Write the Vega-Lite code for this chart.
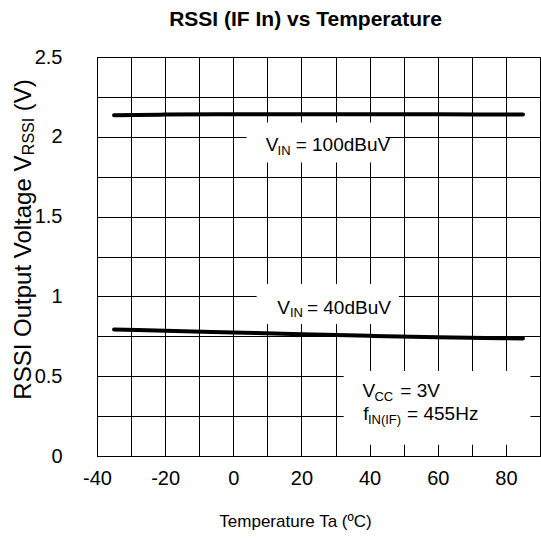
{
  "$schema": "https://vega.github.io/schema/vega-lite/v6.json",
  "width": 443,
  "height": 399,
  "autosize": {"type": "none"},
  "padding": {"left": 97, "top": 57, "right": 1, "bottom": 84},
  "background": "white",
  "config": {
    "font": "Liberation Sans",
    "view": {"stroke": "#000", "strokeWidth": 1}
  },
  "title": {
    "text": "RSSI (IF In) vs Temperature",
    "font": "Liberation Sans",
    "fontSize": 21,
    "fontWeight": "bold",
    "color": "#000",
    "anchor": "middle",
    "offset": 17,
    "dx": -13
  },
  "datasets": {
    "curves": [
      {"series": "100dBuV", "x": -35, "y": 2.135},
      {"series": "100dBuV", "x": -20, "y": 2.139},
      {"series": "100dBuV", "x": 0, "y": 2.141},
      {"series": "100dBuV", "x": 20, "y": 2.142},
      {"series": "100dBuV", "x": 40, "y": 2.142},
      {"series": "100dBuV", "x": 60, "y": 2.141},
      {"series": "100dBuV", "x": 85, "y": 2.140},
      {"series": "40dBuV", "x": -35, "y": 0.793},
      {"series": "40dBuV", "x": -20, "y": 0.785},
      {"series": "40dBuV", "x": 0, "y": 0.774},
      {"series": "40dBuV", "x": 20, "y": 0.763},
      {"series": "40dBuV", "x": 40, "y": 0.753},
      {"series": "40dBuV", "x": 60, "y": 0.744},
      {"series": "40dBuV", "x": 85, "y": 0.736}
    ],
    "boxes": [
      {"x": 3.9, "x2": 44.7, "y": 2.089, "y2": 1.839},
      {"x": 6.85, "x2": 48.6, "y": 1.077, "y2": 0.827},
      {"x": 32.4, "x2": 87.2, "y": 0.533, "y2": 0.071}
    ],
    "labels": [
      {"role": "main", "x": 9.5, "y": 1.91, "text": "V"},
      {"role": "sub", "x": 13.0, "y": 1.889, "text": "IN"},
      {"role": "main", "x": 18.3, "y": 1.91, "text": "= 100dBuV"},
      {"role": "main", "x": 12.9, "y": 0.889, "text": "V"},
      {"role": "sub", "x": 16.6, "y": 0.872, "text": "IN"},
      {"role": "main", "x": 21.6, "y": 0.889, "text": "= 40dBuV"},
      {"role": "main", "x": 37.9, "y": 0.369, "text": "V"},
      {"role": "sub", "x": 41.4, "y": 0.347, "text": "CC"},
      {"role": "main", "x": 49.0, "y": 0.369, "text": "= 3V"},
      {"role": "main", "x": 38.1, "y": 0.2225, "text": "f"},
      {"role": "sub", "x": 39.5, "y": 0.202, "text": "IN(IF)"},
      {"role": "main", "x": 51.0, "y": 0.2225, "text": "= 455Hz"},
      {"role": "ytitle", "x": -59.4, "y": 0.353, "text": "RSSI Output Voltage V"},
      {"role": "ytitlesub", "x": -58.5, "y": 1.885, "text": "RSSI"},
      {"role": "ytitle", "x": -59.4, "y": 2.16, "text": "(V)"}
    ]
  },
  "encoding": {
    "x": {
      "field": "x",
      "type": "quantitative",
      "scale": {"domain": [-40, 90], "nice": false, "zero": false},
      "axis": {
        "values": [-40, -30, -20, -10, 0, 10, 20, 30, 40, 50, 60, 70, 80, 90],
        "labelExpr": "datum.value % 20 == 0 ? toString(datum.value) : ''",
        "grid": true,
        "gridColor": "#000",
        "gridOpacity": 1,
        "gridWidth": 1,
        "ticks": false,
        "domain": false,
        "labelFontSize": 20,
        "labelColor": "#000",
        "labelPadding": 12,
        "labelFlush": false,
        "labelOverlap": false,
        "labelBound": false,
        "title": "Temperature Ta (ºC)",
        "titleFontSize": 17,
        "titleFontWeight": "normal",
        "titleColor": "#000",
        "titlePadding": 25,
        "titleX": 198
      }
    },
    "y": {
      "field": "y",
      "type": "quantitative",
      "scale": {"domain": [0, 2.5], "nice": false, "zero": false},
      "axis": {
        "values": [0, 0.25, 0.5, 0.75, 1, 1.25, 1.5, 1.75, 2, 2.25, 2.5],
        "labelExpr": "datum.value % 0.5 == 0 ? toString(datum.value) : ''",
        "grid": true,
        "gridColor": "#000",
        "gridOpacity": 1,
        "gridWidth": 1,
        "ticks": false,
        "domain": false,
        "labelFontSize": 20,
        "labelColor": "#000",
        "labelPadding": 35,
        "labelFlush": false,
        "labelOverlap": false,
        "labelBound": false,
        "title": null
      }
    }
  },
  "layer": [
    {
      "data": {"name": "boxes"},
      "mark": {"type": "rect", "fill": "white", "stroke": null},
      "encoding": {
        "x2": {"field": "x2"},
        "y2": {"field": "y2"}
      }
    },
    {
      "data": {"name": "curves"},
      "mark": {"type": "line", "color": "#000", "strokeWidth": 4, "strokeCap": "round", "interpolate": "monotone"},
      "encoding": {
        "detail": {"field": "series"}
      }
    },
    {
      "data": {"name": "labels"},
      "transform": [{"filter": "datum.role == 'main'"}],
      "mark": {"type": "text", "align": "left", "baseline": "alphabetic", "fontSize": 19, "color": "#000"},
      "encoding": {
        "text": {"field": "text"}
      }
    },
    {
      "data": {"name": "labels"},
      "transform": [{"filter": "datum.role == 'sub'"}],
      "mark": {"type": "text", "align": "left", "baseline": "alphabetic", "fontSize": 13, "color": "#000"},
      "encoding": {
        "text": {"field": "text"}
      }
    },
    {
      "data": {"name": "labels"},
      "transform": [{"filter": "datum.role == 'ytitle'"}],
      "mark": {"type": "text", "align": "left", "baseline": "alphabetic", "angle": 270, "fontSize": 24, "color": "#000"},
      "encoding": {
        "text": {"field": "text"}
      }
    },
    {
      "data": {"name": "labels"},
      "transform": [{"filter": "datum.role == 'ytitlesub'"}],
      "mark": {"type": "text", "align": "left", "baseline": "alphabetic", "angle": 270, "fontSize": 16, "color": "#000"},
      "encoding": {
        "text": {"field": "text"}
      }
    }
  ]
}
